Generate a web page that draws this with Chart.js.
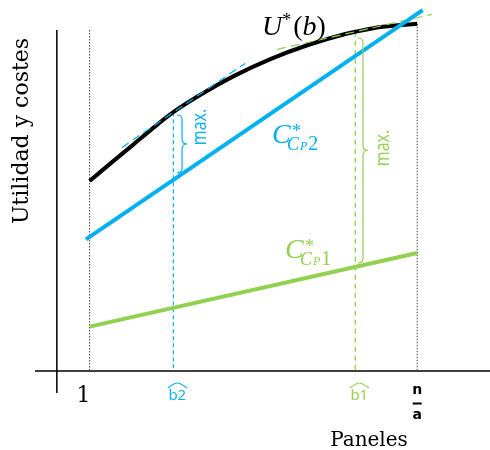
<!DOCTYPE html>
<html>
<head>
<meta charset="utf-8">
<script src="https://cdn.jsdelivr.net/npm/chart.js@4.4.1/dist/chart.umd.min.js"></script>
<style>
  html, body { margin: 0; padding: 0; background: #fff; }
  #wrap { width: 490px; height: 450px; }
</style>
</head>
<body>
<div id="wrap"><canvas id="grafico" width="490" height="450"></canvas></div>
<script>
// curva de utilidad U*(b)
var panelX = [1, 1.6, 2.2, 2.7, 3.3, 4, 5, 6, 7, 8, 8.3, 9, 10];
var utilidad = [47.5, 52.1, 56.6, 60.4, 64.7, 68.8, 73.9, 78.1, 81.5, 84.2, 84.8, 86.0, 86.8];

// rectas de coste
var costeCP2X = [0.9, 10.15];
var costeCP2 = [32.9, 90.2];
var costeCP1X = [1, 10];
var costeCP1 = [11.1, 29.5];

// tangentes (paralelas a cada coste)
var tangenteCP2X = [1.89, 5.27];
var tangenteCP2 = [55.9, 76.9];
var tangenteCP1X = [6.15, 10.4];
var tangenteCP1 = [80.4, 89.15];

// marcas del eje x y altura de sus guias
var tickX = [1, 3.3, 8.3, 10];
var tickLabels = ['1', 'b2', 'b1', 'n/a'];
var guiaTop = [85.25, 64.7, 84.8, 86.8];

// llaves "max."
var llaveX = [3.54, 8.51];
var llaveTop = [64, 83.25];
var llaveBottom = [49.5, 27];

var AZUL = '#00B0F0';
var VERDE = '#92D050';

function pts(xs, ys) {
  return xs.map(function(x, i) { return { x: x, y: ys[i] }; });
}

function linea(data, color, width, dash) {
  return {
    data: data,
    borderColor: color,
    borderWidth: width,
    borderDash: dash || [],
    pointRadius: 0,
    pointHitRadius: 0,
    fill: false,
    tension: 0
  };
}

var curvaU = linea(pts(panelX, utilidad), '#000', 4);
curvaU.cubicInterpolationMode = 'monotone';

// el primero se dibuja encima
var datasets = [
  linea(pts(costeCP2X, costeCP2), AZUL, 4),
  linea(pts(tangenteCP2X, tangenteCP2), AZUL, 1.2, [8, 5]),
  linea(pts(tangenteCP1X, tangenteCP1), VERDE, 1.2, [9, 5]),
  curvaU,
  linea(pts(costeCP1X, costeCP1), VERDE, 4),
  linea([{ x: tickX[0], y: guiaTop[0] }, { x: tickX[0], y: 0 }], '#444', 1, [1.5, 1.5]),
  linea([{ x: tickX[1], y: guiaTop[1] }, { x: tickX[1], y: 0 }], AZUL, 1.2, [4, 3]),
  linea([{ x: tickX[2], y: guiaTop[2] }, { x: tickX[2], y: 0 }], VERDE, 1.3, [5, 4]),
  linea([{ x: tickX[3], y: guiaTop[3] }, { x: tickX[3], y: 0 }], '#444', 1, [1.5, 1.5]),
  linea([{ x: -0.5, y: 0 }, { x: 12, y: 0 }], '#000', 1.5),
  linea([{ x: 0.1, y: 85.25 }, { x: 0.1, y: -5.5 }], '#000', 1.5)
];

function tramos(ctx, x, y, runs) {
  runs.forEach(function(r) {
    ctx.font = r.font;
    ctx.fillText(r.text, x + (r.dx || 0), y + (r.dy || 0));
    x += ctx.measureText(r.text).width + (r.dx || 0) + (r.gap || 0);
  });
}

function llave(ctx, x, top, bottom, color) {
  var mid = (top + bottom) / 2, h = 5, r = 5, t = 5;
  ctx.save();
  ctx.strokeStyle = color;
  ctx.lineWidth = 1.2;
  ctx.beginPath();
  ctx.moveTo(x - h, top);
  ctx.quadraticCurveTo(x, top, x, top + r);
  ctx.lineTo(x, mid - r);
  ctx.quadraticCurveTo(x, mid, x + t, mid);
  ctx.quadraticCurveTo(x, mid, x, mid + r);
  ctx.lineTo(x, bottom - r);
  ctx.quadraticCurveTo(x, bottom, x - h, bottom);
  ctx.stroke();
  ctx.restore();
}

function textoVertical(ctx, text, x, y, font, color, sx) {
  ctx.save();
  ctx.translate(x, y);
  ctx.rotate(-Math.PI / 2);
  if (sx) ctx.scale(sx, 1);
  ctx.font = font;
  ctx.fillStyle = color;
  ctx.textAlign = 'center';
  ctx.textBaseline = 'middle';
  ctx.fillText(text, 0, 0);
  ctx.restore();
}

var anotaciones = {
  id: 'anotaciones',
  afterDatasetsDraw: function(chart) {
    var ctx = chart.ctx, sx = chart.scales.x, sy = chart.scales.y;
    ctx.save();
    ctx.textBaseline = 'alphabetic';

    // llaves
    llave(ctx, sx.getPixelForValue(llaveX[0]), sy.getPixelForValue(llaveTop[0]), sy.getPixelForValue(llaveBottom[0]), AZUL);
    llave(ctx, sx.getPixelForValue(llaveX[1]), sy.getPixelForValue(llaveTop[1]), sy.getPixelForValue(llaveBottom[1]), VERDE);
    textoVertical(ctx, 'max.', 200, 127, '20px "Open Sans"', AZUL, 0.8);
    textoVertical(ctx, 'max.', 383, 148, '20px "Open Sans"', VERDE, 0.8);

    // U*(b)
    ctx.fillStyle = '#000';
    ctx.textAlign = 'left';
    tramos(ctx, 262, 35, [
      { text: 'U', font: 'italic 28px "Liberation Serif"' },
      { text: '*', font: '18px "Liberation Serif"', dy: -9, gap: 2 },
      { text: '(', font: '28px "Liberation Serif"' },
      { text: 'b', font: 'italic 28px "Liberation Serif"' },
      { text: ')', font: '28px "Liberation Serif"' }
    ]);

    // C*CP2 y C*CP1
    var etiquetas = [
      { x: 272, y: 143, color: AZUL, n: '2' },
      { x: 285, y: 258, color: VERDE, n: '1' }
    ];
    etiquetas.forEach(function(e) {
      ctx.fillStyle = e.color;
      ctx.font = 'italic 28px "Liberation Serif"';
      ctx.fillText('C', e.x, e.y);
      ctx.font = '18px "Liberation Serif"';
      ctx.fillText('*', e.x + 20, e.y - 6);
      tramos(ctx, e.x + 15, e.y + 7, [
        { text: 'C', font: 'italic 18px "Liberation Serif"' },
        { text: 'P', font: 'italic 12px "Liberation Serif"', dx: 1, gap: 1 },
        { text: e.n, font: '20px "Liberation Serif"' }
      ]);
    });

    // marcas del eje x
    ctx.textAlign = 'center';
    ctx.fillStyle = '#000';
    ctx.font = '22px "DejaVu Serif"';
    ctx.fillText(tickLabels[0], sx.getPixelForValue(tickX[0]) - 6, 402);

    [[1, AZUL], [2, VERDE]].forEach(function(p) {
      var cx = sx.getPixelForValue(tickX[p[0]]) + 4;
      ctx.fillStyle = p[1];
      ctx.strokeStyle = p[1];
      ctx.font = '15px "Open Sans"';
      ctx.fillText(tickLabels[p[0]], cx, 400);
      ctx.lineWidth = 1.2;
      ctx.beginPath();
      ctx.moveTo(cx - 9.5, 388);
      ctx.quadraticCurveTo(cx - 3, 383, cx, 383);
      ctx.quadraticCurveTo(cx + 3, 383, cx + 9.5, 388);
      ctx.stroke();
    });

    var partes = tickLabels[3].split('/');
    var nx = sx.getPixelForValue(tickX[3]);
    ctx.fillStyle = '#000';
    ctx.font = 'bold 14px "DejaVu Sans"';
    ctx.fillText(partes[0], nx, 394);
    ctx.fillRect(nx - 4.5, 402.5, 9, 2);
    ctx.fillText(partes[1], nx, 419);

    // titulos de los ejes
    ctx.font = '20px "DejaVu Serif"';
    ctx.fillText('Paneles', 369, 446);
    ctx.save();
    ctx.translate(28, 131);
    ctx.rotate(-Math.PI / 2);
    ctx.font = '22px "DejaVu Serif"';
    ctx.textAlign = 'center';
    ctx.fillText('Utilidad y costes', 0, 0);
    ctx.restore();

    ctx.restore();
  }
};

new Chart(document.getElementById('grafico'), {
  type: 'line',
  data: { datasets: datasets },
  options: {
    responsive: false,
    animation: false,
    events: [],
    layout: { padding: { left: 35, right: 0, top: 0, bottom: 50 } },
    plugins: { legend: { display: false }, tooltip: { enabled: false } },
    scales: {
      x: { type: 'linear', min: -0.5, max: 12, display: false },
      y: { type: 'linear', min: -7.25, max: 92.75, display: false }
    }
  },
  plugins: [anotaciones]
});
</script>
</body>
</html>
